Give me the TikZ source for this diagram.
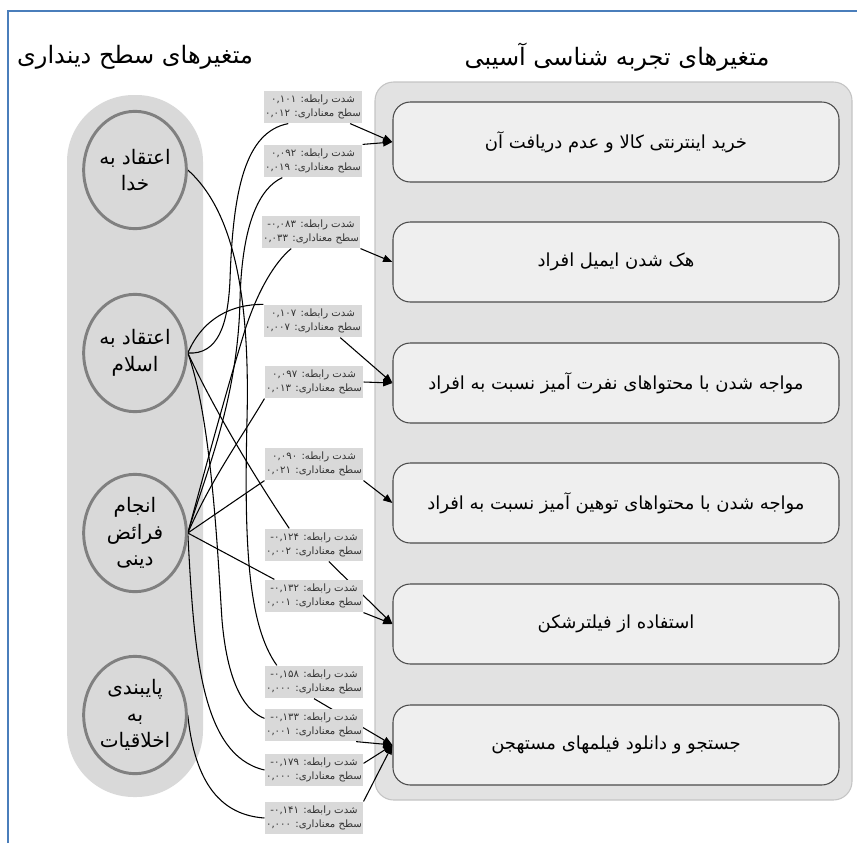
\documentclass[tikz,border=0pt]{standalone}
\usepackage{fontspec}
\usetikzlibrary{shapes.geometric,calc,arrows.meta}
\newfontfamily\fa[Script=Arabic]{DejaVu Sans}
\TeXXeTstate=1
\newcommand\rtlx[1]{\beginR #1\endR}
\newcommand\ltrx[1]{\beginL #1\endL{}}
\newcommand\ngx{\hbox{-}}
\newcommand\labtxt[2]{\rtlx{شدت رابطه: \ltrx{#1}}\\\rtlx{سطح معناداری: \ltrx{#2}}}
\definecolor{borderblue}{HTML}{4A7EBB}
\definecolor{panelL}{HTML}{D9D9D9}
\definecolor{panelR}{HTML}{E2E2E2}
\definecolor{panelRline}{HTML}{C4C4C4}
\definecolor{boxfill}{HTML}{EFEFEF}
\definecolor{circline}{HTML}{808080}
\definecolor{labfill}{HTML}{D9D9D9}
\pgfdeclarelayer{back}
\pgfdeclarelayer{mid}
\pgfsetlayers{back,mid,main}
\begin{document}
\begin{tikzpicture}[x=0.75pt,y=-0.75pt,
  var/.style={ellipse, draw=circline, line width=2.2pt, fill=panelL,
    minimum width=77pt, minimum height=88pt, inner sep=0pt, align=center,
    font=\fa\fontsize{15}{20}\selectfont},
  outcome/.style={rectangle, rounded corners=13pt, draw=black!70, line width=0.8pt,
    fill=boxfill, minimum width=334.5pt, minimum height=60pt,
    font=\fa\fontsize{13.5}{16}\selectfont},
  lab/.style={rectangle, fill=labfill, inner sep=1pt, align=center,
    minimum width=68pt, minimum height=24.5pt,
    font=\fa\fontsize{7.6}{11}\selectfont, text=black!80},
  titletxt/.style={font=\fa\fontsize{18}{22}\selectfont},
  conn/.style={line width=0.8pt, black},
  arr/.style={conn, -{Triangle[length=7pt,width=5.5pt]}}]
\useasboundingbox (0,0) rectangle (857,843);
\begin{pgfonlayer}{back}
  \draw[borderblue, line width=2pt] (8,843) -- (8,11) -- (857,11);
  \fill[panelL, rounded corners=50pt] (67,95) rectangle (203,797);
  \draw[panelRline, fill=panelR, rounded corners=14pt, line width=0.8pt] (375,82) rectangle (852,800);
\end{pgfonlayer}
% titles
\node[titletxt] (T1) at (135,57) {\rtlx{متغیرهای سطح دینداری}};
\node[titletxt] (T2) at (617,57) {\rtlx{متغیرهای تجربه شناسی آسیبی}};
% religiosity variables
\node[var] (c1) at (135,170) {\rtlx{اعتقاد به}\\\rtlx{خدا}};
\node[var] (c2) at (135,353) {\rtlx{اعتقاد به}\\\rtlx{اسلام}};
\node[var] (c3) at (135,533) {\rtlx{انجام}\\\rtlx{فرائض}\\\rtlx{دینی}};
\node[var] (c4) at (135,715) {\rtlx{پایبندی}\\\rtlx{به}\\\rtlx{اخلاقیات}};
% outcome boxes
\node[outcome] (B1) at (616,142) {\rtlx{خرید اینترنتی کالا و عدم دریافت آن}};
\node[outcome] (B2) at (616,262) {\rtlx{هک شدن ایمیل افراد}};
\node[outcome] (B3) at (616,383) {\rtlx{مواجه شدن با محتواهای نفرت آمیز نسبت به افراد}};
\node[outcome] (B4) at (616,503) {\rtlx{مواجه شدن با محتواهای توهین آمیز نسبت به افراد}};
\node[outcome] (B5) at (616,624) {\rtlx{استفاده از فیلترشکن}};
\node[outcome] (B6) at (616,745) {\rtlx{جستجو و دانلود فیلمهای مستهجن}};
% edge labels
\node[lab] (L1) at (313,107) {\labtxt{۰,۱۰۱}{۰,۰۱۲}};
\node[lab] (L2) at (313,161) {\labtxt{۰,۰۹۲}{۰,۰۱۹}};
\node[lab] (L3) at (311,232) {\labtxt{\ngx۰,۰۸۳}{۰,۰۳۳}};
\node[lab] (L4) at (313,321) {\labtxt{۰,۱۰۷}{۰,۰۰۷}};
\node[lab] (L5) at (314,382) {\labtxt{۰,۰۹۷}{۰,۰۱۳}};
\node[lab] (L6) at (314,464) {\labtxt{۰,۰۹۰}{۰,۰۲۱}};
\node[lab] (L7) at (314,545) {\labtxt{\ngx۰,۱۲۴}{۰,۰۰۲}};
\node[lab] (L8) at (314,596) {\labtxt{\ngx۰,۱۳۲}{۰,۰۰۱}};
\node[lab] (L9) at (314,682) {\labtxt{\ngx۰,۱۵۸}{۰,۰۰۰}};
\node[lab] (L10) at (314,725) {\labtxt{\ngx۰,۱۳۳}{۰,۰۰۱}};
\node[lab] (L11) at (314,770) {\labtxt{\ngx۰,۱۷۹}{۰,۰۰۰}};
\node[lab] (L12) at (314,818) {\labtxt{\ngx۰,۱۴۱}{۰,۰۰۰}};
% connectors
\begin{pgfonlayer}{mid}
  % sources -> labels
  \draw[conn] (c1.east) .. controls (235,212) and (250,300) .. (247,420)
     .. controls (244,545) and (248,625) .. ($(L9.north west)!0.25!(L9.north)$);
  \draw[conn] (c2.east) .. controls (218,355) and (228,325) .. (230,280)
     .. controls (233,190) and (245,132) .. ($(L1.south west)!0.5!(L1.south)$);
  \draw[conn] (c2.east) .. controls (203,318) and (232,304) .. (L4.north west);
  \draw[conn] (c2.east) .. controls (212,405) and (250,470) .. ($(L7.north west)!0.5!(L7.north)$);
  \draw[conn] (c2.east) .. controls (212,420) and (218,560) .. (222,620)
     .. controls (228,690) and (248,712) .. ($(L10.north west)!0.3!(L10.south west)$);
  \draw[conn] (c3.east) .. controls (205,475) and (238,400) .. (240,300)
     .. controls (242,222) and (260,188) .. ($(L2.south west)!0.38!(L2.south)$);
  \draw[conn] (c3.east) .. controls (205,470) and (225,395) .. (245,330)
     .. controls (258,290) and (275,262) .. ($(L3.south west)!0.6!(L3.south)$);
  \draw[conn] (c3.east) .. controls (212,478) and (240,440) .. (L5.south west);
  \draw[conn] (c3.east) -- (L6.south west);
  \draw[conn] (c3.east) -- ($(L8.north west)!0.2!(L8.north)$);
  \draw[conn] (c3.east) .. controls (194,650) and (200,755) .. (L11.west);
  \draw[conn] (c4.east) .. controls (195,785) and (222,815) .. (L12.west);
  % labels -> outcomes
  \draw[arr] ($(L1.south)!0.75!(L1.south east)$) -- (B1.west);
  \draw[arr] (L2.north east) -- (B1.west);
  \draw[arr] (L3.south east) -- (B2.west);
  \draw[arr] ($(L4.south)!0.55!(L4.south east)$) -- (B3.west);
  \draw[arr] (L5.east) -- (B3.west);
  \draw[arr] (L6.south east) -- (B4.west);
  \draw[arr] ($(L7.south)!0.3!(L7.south east)$) -- (B5.west);
  \draw[arr] (L8.south east) -- (B5.west);
  \draw[arr] (L9.south) -- (B6.west);
  \draw[arr] ($(L10.south)!0.85!(L10.south east)$) -- (B6.west);
  \draw[arr] ($(L11.north east)!0.3!(L11.south east)$) -- (B6.west);
  \draw[arr] (L12.north east) -- (B6.west);
\end{pgfonlayer}
\end{tikzpicture}
\end{document}
